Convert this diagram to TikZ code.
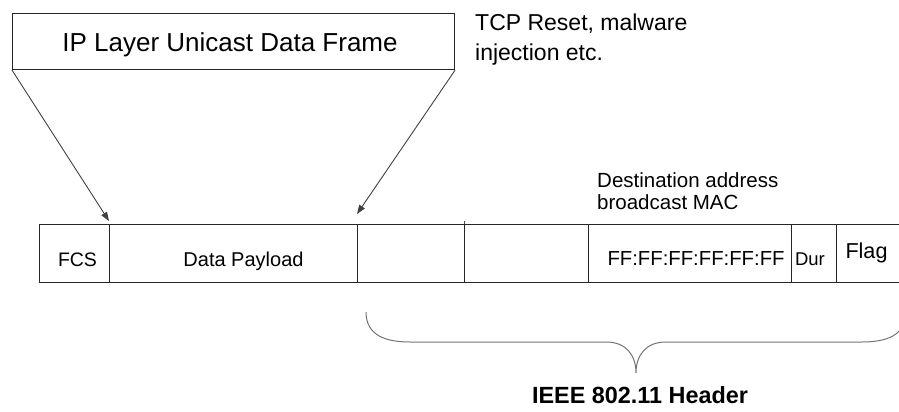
\documentclass[tikz,border=0pt]{standalone}
\usepackage{fontspec}
\setmainfont{Liberation Sans}
\usetikzlibrary{arrows.meta}
\begin{document}
\begin{tikzpicture}[x=1pt,y=-1pt,
  cell/.style={draw=black!85, line width=1pt, minimum height=58pt, inner sep=0pt, outer sep=0pt, anchor=north west},
  lbl/.style={anchor=base, inner sep=0pt},
  ptr/.style={draw=black!75, line width=0.9pt, -{Triangle[length=9pt,width=6.5pt]}},
  brc/.style={draw=black!55, line width=1pt}
]
\useasboundingbox (0,0) rectangle (899,412);
% top box
\node[draw=black!85, line width=1.1pt, minimum width=442pt, minimum height=56pt, inner sep=0pt, anchor=north west] (ip) at (12,13) {};
\node[lbl, font=\fontsize{26}{31}\selectfont] (iptxt) at (230,52) {IP Layer Unicast Data Frame};
% note
\node[anchor=base west, inner sep=0pt, align=left, font=\fontsize{23}{30}\selectfont] (tcp) at (475,61) {TCP Reset, malware\\injection etc.};
% frame cells
\node[cell, minimum width=70pt] (fcs) at (39,224) {};
\node[cell, minimum width=248pt] (pay) at (109,224) {};
\node[cell, minimum width=107pt] (c3) at (357,224) {};
\node[cell, minimum width=124pt] (c4) at (464,224) {};
\node[cell, minimum width=203pt] (dst) at (588,224) {};
\node[cell, minimum width=45pt] (dur) at (791,224) {};
\node[cell, minimum width=80pt] (flag) at (836,224) {};
\draw[draw=black!70, line width=1pt] (c4.north west) -- ++(0,-3);
% cell texts
\node[lbl, font=\fontsize{19.5}{23}\selectfont] (fcst) at (77.5,266) {FCS};
\node[lbl, font=\fontsize{20}{24}\selectfont] (payt) at (243.5,266) {Data Payload};
\node[lbl, font=\fontsize{20.3}{24}\selectfont] (ff) at (696,265) {FF:FF:FF:FF:FF:FF};
\node[lbl, font=\fontsize{18.5}{22}\selectfont] (durt) at (810,265) {Dur};
\node[lbl, font=\fontsize{21.6}{26}\selectfont] (flagt) at (866.5,258) {Flag};
% destination note
\node[anchor=base west, inner sep=0pt, align=left, font=\fontsize{20.5}{22}\selectfont] (dest) at (597,209) {Destination address\\broadcast MAC};
% arrows
\draw[ptr] (ip.south west) -- ([yshift=3pt]pay.north west);
\draw[ptr] (ip.south east) -- ([yshift=10pt]c3.north west);
% brace
\coordinate (bl) at (366,312);
\coordinate (bt) at (636,373);
\coordinate (br) at (906,312);
\draw[brc] (bl) .. controls (366,335) and (385,342) .. (410,342) -- (606,342)
  .. controls (626,342) and (636,355) .. (bt)
  .. controls (636,355) and (646,342) .. (666,342) -- (862,342)
  .. controls (887,342) and (906,335) .. (br);
\node[lbl, font=\fontsize{23.4}{28}\selectfont\bfseries] (hdr) at (640,403) {IEEE 802.11 Header};
\end{tikzpicture}
\end{document}
